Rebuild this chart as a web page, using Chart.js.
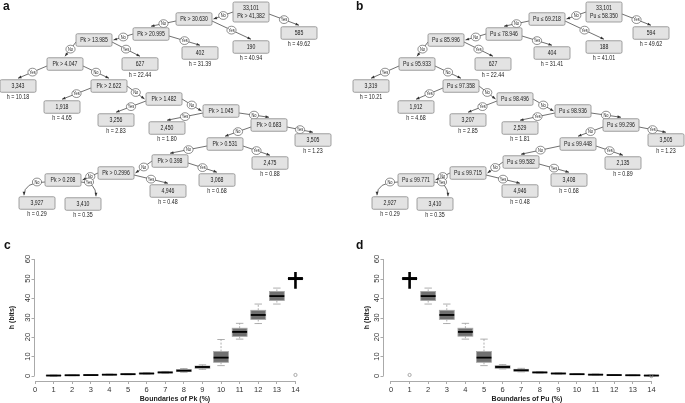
<!DOCTYPE html>
<html>
<head>
<meta charset="utf-8">
<script src="https://cdn.jsdelivr.net/npm/chart.js@4.4.0/dist/chart.umd.min.js"></script>
<style>
  body { margin: 0; background: #fff; width: 685px; height: 403px; position: relative; overflow: hidden; font-family: "Liberation Sans", Arial, sans-serif; }
  canvas { position: absolute; }
  .tag { position: absolute; font-weight: bold; font-size: 12px; line-height: 12px; color: #111; z-index: 2; }
</style>
</head>
<body>
<canvas id="treeA" width="340" height="220" style="left:0;top:0"></canvas>
<canvas id="treeB" width="345" height="220" style="left:340px;top:0"></canvas>
<canvas id="boxC" width="340" height="183" style="left:0;top:220px"></canvas>
<canvas id="boxD" width="345" height="183" style="left:340px;top:220px"></canvas>
<div class="tag" style="left:3px;top:0px">a</div>
<div class="tag" style="left:356px;top:0px">b</div>
<div class="tag" style="left:4px;top:239px">c</div>
<div class="tag" style="left:356px;top:239px">d</div>
<script>
// tree data
const totalN = "33,101";
const pkSplits = ["Pk > 41,382", "Pk > 30.630", "Pk > 20.995", "Pk > 13.985", "Pk > 4.047", "Pk > 2.622", "Pk > 1.482",
    "Pk > 1.045", "Pk > 0.683", "Pk > 0.531", "Pk > 0.398", "Pk > 0.2996", "Pk > 0.208"];
const pkLeafN = ["585", "190", "402", "627", "3,343", "1,918", "3,256", "2,450", "3,505", "2,475", "3,068", "4,946", "3,927", "3,410"];
const pkLeafH = [49.62, 40.94, 31.39, 22.44, 10.18, 4.65, 2.83, 1.80, 1.23, 0.88, 0.68, 0.48, 0.29, 0.35];
const puSplits = ["Pu ≤ 58.350", "Pu ≤ 69.218", "Pu ≤ 78.946", "Pu ≤ 85.996", "Pu ≤ 95.933", "Pu ≤ 97.358", "Pu ≤ 98.496",
    "Pu ≤ 98.936", "Pu ≤ 99.296", "Pu ≤ 99.448", "Pu ≤ 99.582", "Pu ≤ 99.715", "Pu ≤ 99.771"];
const puLeafN = ["594", "188", "404", "627", "3,319", "1,912", "3,207", "2,529", "3,505", "2,135", "3,408", "4,946", "2,927", "3,410"];
const puLeafH = [49.62, 41.01, 31.41, 22.44, 10.21, 4.68, 2.85, 1.81, 1.23, 0.89, 0.68, 0.48, 0.29, 0.35];

// boxplot data
const xTicks = [0, 1, 2, 3, 4, 5, 6, 7, 8, 9, 10, 11, 12, 13, 14];
const yTicks = [0, 10, 20, 30, 40, 50, 60];
const boundaries = [1, 2, 3, 4, 5, 6, 7, 8, 9, 10, 11, 12, 13, 14];
const pkMed = [0.2, 0.35, 0.45, 0.65, 0.9, 1.25, 1.8, 2.7, 4.6, 9.4, 22.6, 31.3, 41.0, 50.0];
const pkQ1 = [0.1, 0.25, 0.35, 0.5, 0.75, 1.05, 1.55, 2.2, 3.9, 7.0, 20.3, 29.0, 38.7, 49.9];
const pkQ3 = [0.35, 0.45, 0.6, 0.8, 1.05, 1.45, 2.05, 3.3, 5.1, 12.5, 24.5, 33.7, 43.4, 50.1];
const pkLow = [-0.2, 0.15, 0.25, 0.4, 0.6, 0.9, 1.35, 1.9, 3.4, 5.3, 18.9, 26.9, 36.9, 44.8];
const pkHigh = [0.5, 0.55, 0.7, 0.95, 1.2, 1.65, 2.3, 3.8, 5.7, 18.7, 27.0, 36.9, 45.1, 53.3];
const pkOutX = [14];
const pkOutY = [0.5];
const puMed = [50.0, 41.0, 31.3, 22.6, 9.4, 4.6, 2.9, 1.8, 1.25, 0.9, 0.65, 0.45, 0.35, 0.2];
const puQ1 = [49.9, 38.7, 29.0, 20.4, 7.0, 3.9, 2.4, 1.6, 1.1, 0.8, 0.5, 0.35, 0.25, 0.1];
const puQ3 = [50.1, 43.4, 33.7, 24.5, 12.5, 5.3, 3.4, 2.0, 1.45, 1.0, 0.85, 0.55, 0.45, 0.35];
const puLow = [44.8, 36.9, 26.9, 18.9, 5.3, 3.6, 2.1, 1.45, 0.95, 0.7, 0.4, 0.25, 0.15, 0.0];
const puHigh = [53.3, 45.1, 36.9, 27.0, 18.9, 5.8, 3.9, 2.2, 1.6, 1.1, 1.0, 0.65, 0.55, 0.5];
const puOutX = [1, 14];
const puOutY = [0.5, -0.1];

// tree layout (panel pixels), kept apart from the values
const pkSplitPos = [[251, 12], [194, 19], [151, 34], [94, 40], [65, 64], [109, 86], [164, 99], [221, 111], [269, 125],
    [225, 144], [170, 161], [116, 173], [63, 180]];
const pkLeafPos = [[299, 33], [251, 47], [200, 53], [140, 64], [18, 86], [62, 107], [116, 120], [167, 128], [313, 140],
    [270, 163], [217, 180], [168, 191], [37, 203], [83, 204]];
const puSplitPos = [[264, 12], [207, 19], [164, 34], [106, 40], [77, 64], [121, 86], [175, 99], [233, 111], [281, 125],
    [238, 144], [181, 162], [128, 173], [76, 180]];
const puLeafPos = [[311, 33], [264, 47], [212, 53], [153, 64], [31, 86], [76, 107], [128, 120], [180, 128], [326, 140],
    [283, 163], [229, 180], [180, 191], [50, 203], [95, 204]];

Chart.defaults.font.family = '"Liberation Sans", Arial, sans-serif';
Chart.defaults.color = "#222";

function narrowText(ctx, str, x, y, size) {
    ctx.save();
    ctx.translate(x, y);
    ctx.scale(0.82, 1);
    ctx.font = size + 'px "Liberation Sans", Arial, sans-serif';
    ctx.textAlign = "center";
    ctx.textBaseline = "middle";
    ctx.fillText(str, 0, 0);
    ctx.restore();
}

function treePlugin(nodes) {
    return {
        id: "tree",
        afterDatasetsDraw(chart) {
            const ctx = chart.ctx;
            const pts = chart.getDatasetMeta(0).data;
            const geo = nodes.map((n, i) => ({ cx: pts[i].x, cy: pts[i].y, w: 36, h: n.lines.length > 1 ? 20 : 12.5 }));
            ctx.save();
            const tags = [];
            nodes.forEach((n, i) => {
                if (n.parent < 0) return;
                const p = geo[n.parent], c = geo[i];
                const dir = c.cx < p.cx ? -1 : 1;
                const top = c.cy - c.h / 2;
                const below = top - p.cy > 7;
                const sx = p.cx + dir * p.w / 2, sy = below ? p.cy + 2 : p.cy;
                let ex, ey, fx, fy, lx, ly;
                if (below) { ex = c.cx; ey = top - 1.5; }
                else { ex = c.cx - dir * (c.w / 2 + 1.5); ey = c.cy; }
                ctx.strokeStyle = "#333";
                ctx.fillStyle = "#333";
                ctx.lineWidth = 0.7;
                ctx.beginPath();
                ctx.moveTo(sx, sy);
                if (n.h !== undefined && Math.abs(c.cx - sx) < 20) {
                    ex = c.cx + dir * 13;
                    ctx.quadraticCurveTo(ex, sy, ex, ey);
                    fx = ex; fy = sy;
                    lx = sx + dir * 8; ly = sy;
                } else {
                    ctx.lineTo(ex, ey);
                    fx = sx; fy = sy;
                    lx = (sx + ex) / 2; ly = (sy + ey) / 2;
                }
                ctx.stroke();
                const ang = Math.atan2(ey - fy, ex - fx);
                ctx.beginPath();
                ctx.moveTo(ex, ey);
                ctx.lineTo(ex - 3.5 * Math.cos(ang) + 1.4 * Math.sin(ang), ey - 3.5 * Math.sin(ang) - 1.4 * Math.cos(ang));
                ctx.lineTo(ex - 3.5 * Math.cos(ang) - 1.4 * Math.sin(ang), ey - 3.5 * Math.sin(ang) + 1.4 * Math.cos(ang));
                ctx.closePath();
                ctx.fill();
                tags.push([lx, ly, n.branch]);
            });
            tags.forEach(t => {
                ctx.beginPath();
                ctx.ellipse(t[0], t[1], 4.6, 3.9, 0, 0, Math.PI * 2);
                ctx.fillStyle = "#fff";
                ctx.fill();
                ctx.strokeStyle = "#444";
                ctx.lineWidth = 0.6;
                ctx.stroke();
                ctx.fillStyle = "#222";
                narrowText(ctx, t[2], t[0], t[1] + 0.3, 4.8);
            });
            nodes.forEach((n, i) => {
                const g = geo[i];
                ctx.beginPath();
                ctx.roundRect(g.cx - g.w / 2, g.cy - g.h / 2, g.w, g.h, 1.5);
                ctx.fillStyle = "#e3e3e3";
                ctx.fill();
                ctx.strokeStyle = "#8a8a8a";
                ctx.lineWidth = 0.8;
                ctx.stroke();
                ctx.fillStyle = "#222";
                if (n.lines.length > 1) {
                    narrowText(ctx, n.lines[0], g.cx, g.cy - 4, 6.3);
                    narrowText(ctx, n.lines[1], g.cx, g.cy + 4.5, 6.3);
                } else {
                    narrowText(ctx, n.lines[0], g.cx, g.cy + 0.3, 6.3);
                }
                if (n.h !== undefined) {
                    narrowText(ctx, "h = " + n.h.toFixed(2), g.cx, g.cy + g.h / 2 + 5, 6.5);
                }
            });
            ctx.restore();
        }
    };
}

function makeTree(id, splits, leafN, leafH, splitPos, leafPos) {
    const nodes = [];
    const last = splits.length - 1;
    splits.forEach((s, i) => {
        nodes.push({ lines: i === 0 ? [totalN, s] : [s], parent: i - 1, branch: "No", pos: splitPos[i] });
    });
    leafN.forEach((n, i) => {
        nodes.push({ lines: [n], parent: Math.min(i, last), branch: i === last ? "No" : "Yes", h: leafH[i], pos: leafPos[i] });
    });
    const canvas = document.getElementById(id);
    new Chart(canvas, {
        type: "scatter",
        data: { datasets: [{ data: nodes.map(n => ({ x: n.pos[0], y: n.pos[1] })), pointRadius: 0 }] },
        options: {
            responsive: false, animation: false, events: [],
            layout: { padding: 0 },
            plugins: { legend: { display: false }, tooltip: { enabled: false } },
            scales: {
                x: { display: false, min: 0, max: canvas.width },
                y: { display: false, min: 0, max: canvas.height, reverse: true }
            }
        },
        plugins: [treePlugin(nodes)]
    });
}

function boxPlugin(med, q1, q3, lo, hi) {
    return {
        id: "boxes",
        beforeDatasetsDraw(chart) {
            const { ctx, scales: { x, y } } = chart;
            const ppu = x.getPixelForValue(1) - x.getPixelForValue(0);
            const half = 0.4 * ppu, cap = 0.2 * ppu;
            ctx.save();
            boundaries.forEach((b, i) => {
                const cx = x.getPixelForValue(b);
                const bold = (q3[i] - q1[i]) < 0.5 && (hi[i] - lo[i]) > 2;
                ctx.setLineDash(bold ? [] : [2, 1.5]);
                ctx.strokeStyle = bold ? "#000" : "#9a9a9a";
                ctx.lineWidth = bold ? 2.6 : 0.8;
                ctx.beginPath();
                ctx.moveTo(cx, y.getPixelForValue(q3[i]));
                ctx.lineTo(cx, y.getPixelForValue(hi[i]));
                ctx.moveTo(cx, y.getPixelForValue(q1[i]));
                ctx.lineTo(cx, y.getPixelForValue(lo[i]));
                ctx.stroke();
                ctx.setLineDash([]);
                if (!bold) {
                    ctx.beginPath();
                    ctx.moveTo(cx - cap, y.getPixelForValue(hi[i]));
                    ctx.lineTo(cx + cap, y.getPixelForValue(hi[i]));
                    ctx.moveTo(cx - cap, y.getPixelForValue(lo[i]));
                    ctx.lineTo(cx + cap, y.getPixelForValue(lo[i]));
                    ctx.stroke();
                }
                const top = y.getPixelForValue(q3[i]), bot = y.getPixelForValue(q1[i]);
                ctx.fillStyle = "#707070";
                ctx.fillRect(cx - half, top, 2 * half, bot - top);
                ctx.strokeStyle = "#a8a8a8";
                ctx.lineWidth = 0.8;
                ctx.strokeRect(cx - half, top, 2 * half, bot - top);
                ctx.strokeStyle = "#000";
                ctx.lineWidth = bold ? 3 : 1.8;
                ctx.beginPath();
                ctx.moveTo(cx - half, y.getPixelForValue(med[i]));
                ctx.lineTo(cx + half, y.getPixelForValue(med[i]));
                ctx.stroke();
            });
            ctx.restore();
        }
    };
}

const axisPlugin = {
    id: "rAxes",
    afterDraw(chart) {
        const { ctx, chartArea: a, scales: { x, y } } = chart;
        ctx.save();
        ctx.strokeStyle = "#aaa";
        ctx.lineWidth = 1;
        ctx.beginPath();
        ctx.moveTo(x.getPixelForValue(xTicks[0]), a.bottom + 0.5);
        ctx.lineTo(x.getPixelForValue(xTicks[xTicks.length - 1]), a.bottom + 0.5);
        const ax = Math.round(a.left) - 0.5;
        ctx.moveTo(ax, y.getPixelForValue(yTicks[0]));
        ctx.lineTo(ax, y.getPixelForValue(yTicks[yTicks.length - 1]));
        yTicks.forEach(v => {
            const py = Math.round(y.getPixelForValue(v)) + 0.5;
            ctx.moveTo(ax - 3, py);
            ctx.lineTo(ax, py);
        });
        ctx.stroke();
        ctx.fillStyle = "#333";
        ctx.font = '7.5px "Liberation Sans", Arial, sans-serif';
        ctx.textAlign = "center";
        ctx.textBaseline = "bottom";
        yTicks.forEach(v => {
            ctx.save();
            ctx.translate(ax - 3, y.getPixelForValue(v));
            ctx.rotate(-Math.PI / 2);
            ctx.fillText(String(v), 0, 0);
            ctx.restore();
        });
        ctx.restore();
    }
};

function makeBox(id, cfg) {
    const canvas = document.getElementById(id);
    new Chart(canvas, {
        type: "scatter",
        data: {
            datasets: [{
                data: cfg.outX.map((v, i) => ({ x: v, y: cfg.outY[i] })),
                pointStyle: "circle", pointRadius: 1.6, borderWidth: 0.7,
                borderColor: "#888", backgroundColor: "rgba(0,0,0,0)"
            }]
        },
        options: {
            responsive: false, animation: false, events: [],
            layout: { padding: { left: 0, right: cfg.padRight, top: 34, bottom: 0 } },
            plugins: { legend: { display: false }, tooltip: { enabled: false } },
            scales: {
                x: {
                    type: "linear", min: cfg.xMin, max: cfg.xMax,
                    afterBuildTicks: s => { s.ticks = xTicks.map(v => ({ value: v })); },
                    afterFit: s => { s.height = 22; },
                    ticks: { font: { size: 7.5 }, color: "#333", padding: 1, maxRotation: 0, autoSkip: false },
                    grid: { drawOnChartArea: false, tickLength: 3, color: "#aaa" },
                    border: { display: false },
                    title: { display: true, text: cfg.xTitle, font: { size: 7, weight: "bold" }, color: "#222", padding: { top: 0, bottom: 0 } }
                },
                y: {
                    min: -2.6, max: 62.6,
                    afterBuildTicks: s => { s.ticks = yTicks.map(v => ({ value: v })); },
                    afterFit: s => { s.width = cfg.yWidth; },
                    ticks: { display: false },
                    grid: { display: false },
                    border: { display: false },
                    title: { display: true, text: "h (bits)", font: { size: 7, weight: "bold" }, color: "#222", padding: { top: cfg.yTitlePad, bottom: 0 } }
                }
            }
        },
        plugins: [boxPlugin(cfg.med, cfg.q1, cfg.q3, cfg.lo, cfg.hi), axisPlugin]
    });
}

makeTree("treeA", pkSplits, pkLeafN, pkLeafH, pkSplitPos, pkLeafPos);
makeTree("treeB", puSplits, puLeafN, puLeafH, puSplitPos, puLeafPos);
makeBox("boxC", {
    med: pkMed, q1: pkQ1, q3: pkQ3, lo: pkLow, hi: pkHigh, outX: pkOutX, outY: pkOutY,
    xMin: 0, xMax: 15.05, padRight: 25, yWidth: 35, yTitlePad: 8, xTitle: "Boundaries of Pk (%)"
});
makeBox("boxD", {
    med: puMed, q1: puQ1, q3: puQ3, lo: puLow, hi: puHigh, outX: puOutX, outY: puOutY,
    xMin: -0.376, xMax: 15, padRight: 15, yWidth: 44, yTitlePad: 22.5, xTitle: "Boundaries of Pu (%)"
});
</script>
</body>
</html>
